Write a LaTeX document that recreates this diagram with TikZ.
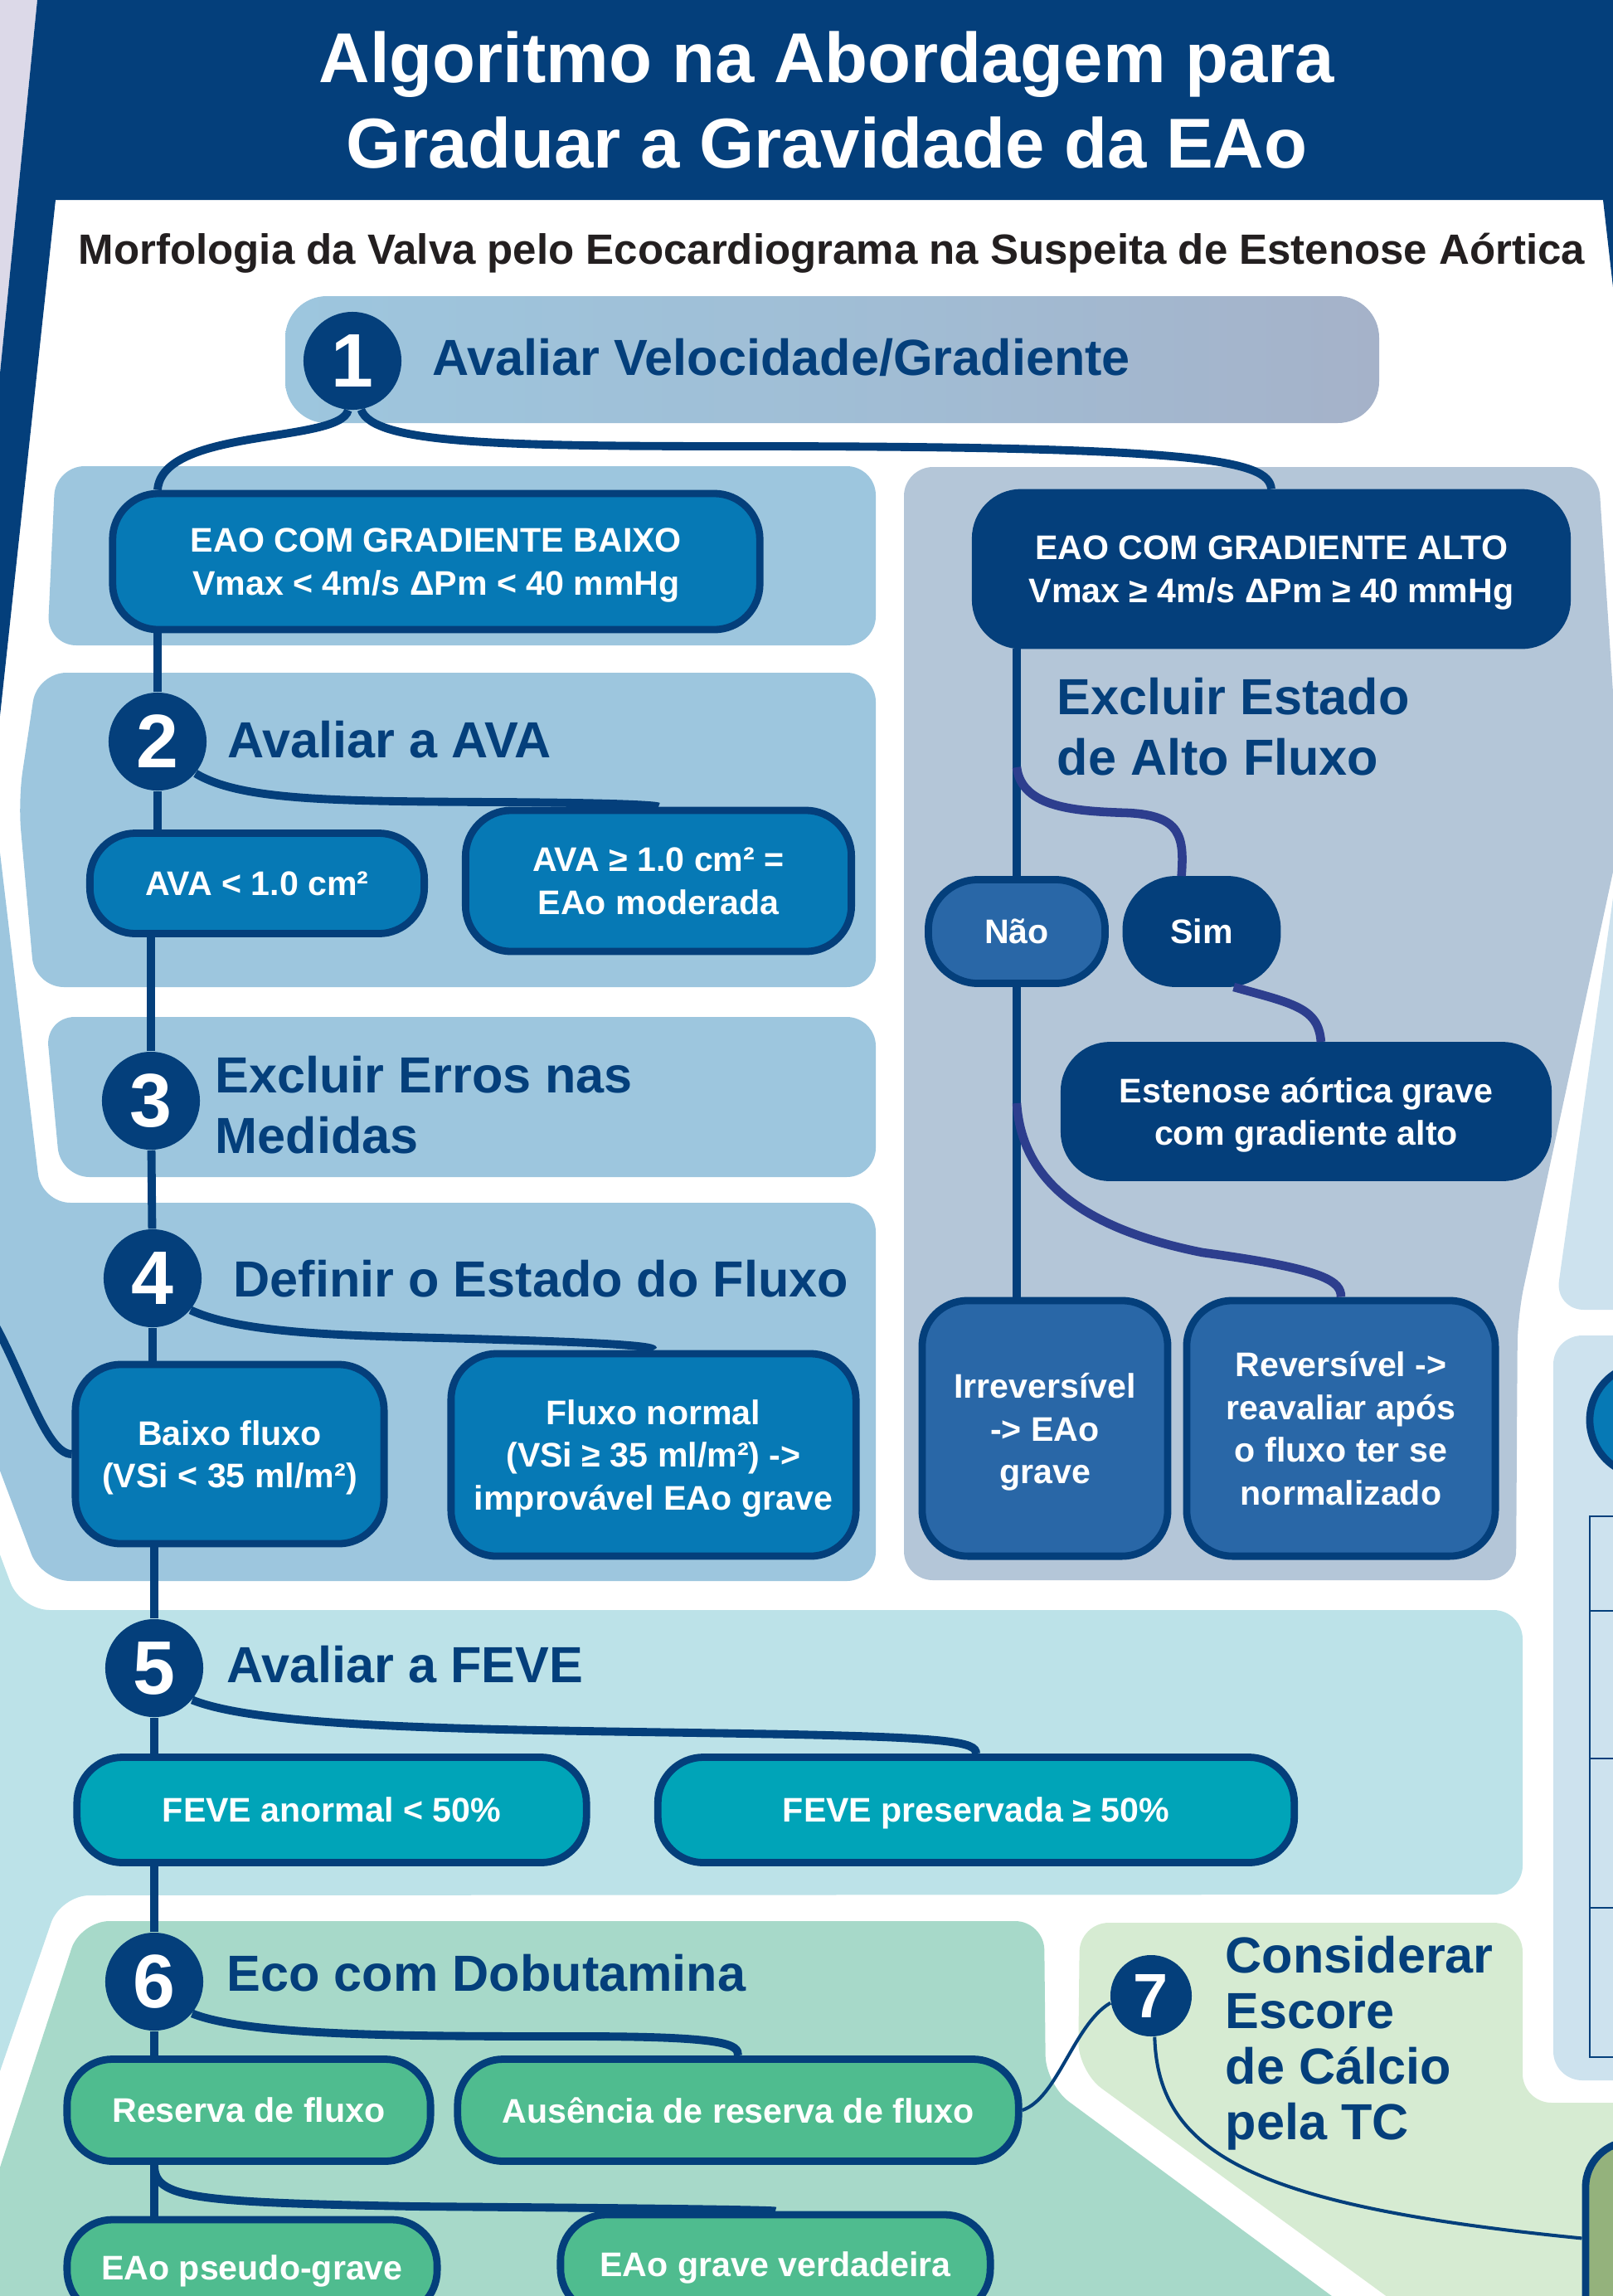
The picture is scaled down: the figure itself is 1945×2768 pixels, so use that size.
\documentclass[tikz,border=0pt]{standalone}
\usepackage{fontspec}
\setmainfont{Liberation Sans}

\definecolor{navy}{HTML}{043F7B}
\definecolor{lavend}{HTML}{DCD9E8}
\definecolor{skyp}{HTML}{9DC6DE}
\definecolor{gradgrey}{HTML}{A5B2C9}
\definecolor{greyp}{HTML}{B4C6D8}
\definecolor{midblue}{HTML}{0679B5}
\definecolor{steel}{HTML}{2967A7}
\definecolor{branchblue}{HTML}{2D3E8E}
\definecolor{tealbg}{HTML}{BCE2E8}
\definecolor{tealbox}{HTML}{00A4B8}
\definecolor{greenbg}{HTML}{A7D9C9}
\definecolor{greenbox}{HTML}{4FBC8F}
\definecolor{palegreen}{HTML}{D6EBD2}
\definecolor{paleblue}{HTML}{CDE2EE}
\definecolor{calcgreen}{HTML}{94B27C}
\definecolor{inkblack}{HTML}{231F20}

\newcommand\titletext{\bfseries\fontsize{24.2}{28.5}\selectfont}
\newcommand\subtext{\bfseries\fontsize{14.5}{17}\selectfont}
\newcommand\headtext{\bfseries\fontsize{17.4}{21}\selectfont}
\newcommand\boxtext{\bfseries\fontsize{11.7}{14.7}\selectfont}
\newcommand\digittext{\bfseries\fontsize{26}{26}\selectfont}

\tikzset{
  panel/.style={rounded corners=0.35cm},
  link/.style={draw=navy, line width=2.8pt},
  branch/.style={draw=branchblue, line width=3pt},
  thinlink/.style={draw=navy, line width=1.15pt},
  stepnum/.style={circle, fill=navy, text=white, inner sep=0pt,
    minimum size=1.18cm, font=\digittext},
  box/.style={rectangle, rounded corners=0.55cm, draw=navy, line width=2.5pt,
    text=white, font=\boxtext, align=center, inner sep=0pt, text depth=0pt},
  heading/.style={text=navy, font=\headtext, inner sep=0pt, align=left},
}

\begin{document}
\begin{tikzpicture}[x=0.01cm,y=-0.01cm]
  \useasboundingbox (0,0) rectangle (1945,2768);
  \clip (0,0) rectangle (1945,2768);

  % header band and frame
  \fill[lavend] (0,0) -- (45,0) -- (0,450) -- cycle;
  \fill[navy] (45,0) -- (1945,0) -- (1945,346) -- (1933,241) -- (67,241)
    -- (0,863) -- (0,450) -- cycle;
  \node[text=white, font=\titletext, anchor=base] (title1) at (997,99)
    {Algoritmo na Abordagem para};
  \node[text=white, font=\titletext, anchor=base] (title2) at (997,202)
    {Graduar a Gravidade da EAo};
  \node[text=inkblack, font=\subtext, anchor=base] (subtitle) at (1003,318)
    {Morfologia da Valva pelo Ecocardiograma na Suspeita de Estenose Aórtica};

  % background panels
  \shade[left color=skyp, right color=gradgrey, middle color=skyp!60!gradgrey,
    rounded corners=0.5cm] (344,357) rectangle (1663,510);
  \fill[skyp, panel] (67,562) -- (1056,562) -- (1056,778) -- (57,778) -- cycle;
  \fill[skyp, panel] (45,811) -- (1056,811) -- (1056,1190) -- (42,1190)
    -- (22,965) -- cycle;
  \fill[skyp, panel] (55,1226) -- (1056,1226) -- (1056,1419) -- (73,1419) -- cycle;
  \fill[skyp, panel] (-20,859) -- (50,1450) -- (1056,1450) -- (1056,1906)
    -- (50,1906) -- (-20,1720) -- cycle;
  \fill[greyp, panel] (1090,563) -- (1927,563) -- (1956,1000) -- (1830,1586)
    -- (1828,1905) -- (1090,1905) -- cycle;
  \fill[paleblue, panel] (1951,1040) -- (1875,1579) -- (1990,1579)
    -- (1990,1040) -- cycle;
  \fill[paleblue, panel] (1873,1610) rectangle (1990,2508);
  \fill[tealbg, panel] (-20,1821) -- (25,1941) -- (1836,1941) -- (1836,2284)
    -- (73,2285) -- (-20,2555) -- cycle;
  \fill[greenbg, panel] (-20,2674) -- (97,2316) -- (1259,2316) -- (1261,2513)
    -- (1660,2808) -- (-20,2808) -- cycle;
  \fill[palegreen, panel] (1302,2318) -- (1836,2318) -- (1836,2535)
    -- (1990,2535) -- (1990,2818) -- (1740,2818) -- (1300,2497) -- cycle;

  % cut-off table at the right edge
  \draw[navy, fill=midblue, line width=2.5pt] (1984,1712) circle [radius=0.67cm];
  \draw[navy, line width=0.8pt] (1990,1828) -- (1917,1828) -- (1917,2480) -- (1990,2480);
  \foreach \yy in {1942,2120,2300}
    \draw[navy, line width=0.8pt] (1917,\yy) -- (1990,\yy);

  % step numbers
  \node[stepnum] (c1) at (425,435) {1};
  \node[stepnum] (c2) at (190,894) {2};
  \node[stepnum] (c3) at (182,1327) {3};
  \node[stepnum] (c4) at (184,1541) {4};
  \node[stepnum] (c5) at (186,2011) {5};
  \node[stepnum] (c6) at (186,2389) {6};
  \node[stepnum, minimum size=0.98cm, font=\bfseries\fontsize{21.5}{21.5}\selectfont]
    (c7) at (1388,2406) {7};

  % step headings
  \node[heading, anchor=base west] (h1) at (521,452) {Avaliar Velocidade/Gradiente};
  \node[heading, anchor=base west] (h2) at (274,913) {Avaliar a AVA};
  \node[heading, anchor=north west] (h3) at (259,1272) {Excluir Erros nas\\Medidas};
  \node[heading, anchor=base west] (h4) at (281,1563) {Definir o Estado do Fluxo};
  \node[heading, anchor=base west] (h5) at (273,2028) {Avaliar a FEVE};
  \node[heading, anchor=base west] (h6) at (273,2400) {Eco com Dobutamina};
  \node[heading, anchor=north west] (hx) at (1274,816) {Excluir Estado\\de Alto Fluxo};
  \node[heading, anchor=north west, font=\bfseries\fontsize{17.4}{19.06}\selectfont]
    (h7) at (1477,2333) {Considerar\\Escore\\de Cálcio\\pela TC};

  % boxes, left column
  \node[box, fill=midblue, minimum width=7.80cm, minimum height=1.64cm] (gbaixo)
    at (526,677) {EAO COM GRADIENTE BAIXO\\Vmax < 4m/s ΔPm < 40 mmHg};
  \node[box, fill=midblue, minimum width=4.03cm, minimum height=1.21cm] (ava1)
    at (310,1065) {AVA < 1.0 cm²};
  \node[box, fill=midblue, minimum width=4.65cm, minimum height=1.70cm] (ava2)
    at (794,1062) {AVA ≥ 1.0 cm² =\\EAo moderada};
  \node[box, fill=midblue, minimum width=3.72cm, minimum height=2.16cm] (baixo)
    at (277,1753) {Baixo fluxo\\(VSi < 35 ml/m²)};
  \node[box, fill=midblue, minimum width=4.88cm, minimum height=2.44cm] (fnormal)
    at (788,1754) {Fluxo normal\\(VSi ≥ 35 ml/m²) ->\\improvável EAo grave};
  \node[box, fill=tealbox, minimum width=6.14cm, minimum height=1.27cm] (anormal)
    at (400,2182) {FEVE anormal < 50\%};
  \node[box, fill=tealbox, minimum width=7.67cm, minimum height=1.27cm] (pres)
    at (1177,2182) {FEVE preservada ≥ 50\%};
  \node[box, fill=greenbox, minimum width=4.38cm, minimum height=1.23cm] (reserva)
    at (300,2544) {Reserva de fluxo};
  \node[box, fill=greenbox, minimum width=6.76cm, minimum height=1.23cm] (aus)
    at (890,2544) {Ausência de reserva de fluxo};
  \node[box, fill=greenbox, minimum width=4.46cm, minimum height=1.16cm] (pseudo)
    at (304,2734) {EAo pseudo-grave};
  \node[box, fill=greenbox, minimum width=5.18cm, minimum height=1.20cm] (verd)
    at (935,2730) {EAo grave verdadeira};

  % boxes, right column
  \node[box, fill=navy, minimum width=7.13cm, minimum height=1.84cm] (galto)
    at (1533,686) {EAO COM GRADIENTE ALTO\\Vmax ≥ 4m/s ΔPm ≥ 40 mmHg};
  \node[box, fill=steel, rounded corners=0.6cm, minimum width=2.13cm,
    minimum height=1.25cm] (nao) at (1226,1123) {Não};
  \node[box, fill=navy, rounded corners=0.6cm, minimum width=1.82cm,
    minimum height=1.25cm] (sim) at (1449,1123) {Sim};
  \node[box, fill=navy, minimum width=5.83cm, minimum height=1.59cm] (est)
    at (1575,1340) {Estenose aórtica grave\\com gradiente alto};
  \node[box, fill=steel, minimum width=2.96cm, minimum height=3.08cm] (irr)
    at (1260,1722) {Irreversível\\-> EAo\\grave};
  \node[box, fill=steel, minimum width=3.72cm, minimum height=3.08cm] (rev)
    at (1617,1722) {Reversível ->\\reavaliar após\\o fluxo ter se\\normalizado};
  \node[box, fill=calcgreen, minimum width=2.88cm, minimum height=3.18cm] (tcbox)
    at (2056,2741) {};

  \coordinate (offleft) at (-10,1590);
  \coordinate (simfork) at (1226,925);
  \coordinate (revfork) at (1226,1330);

  % main trunk
  \draw[link] (c1.-95) .. controls (410,535) and (196,515) .. (gbaixo.north -| c2);
  \draw[link] (c1.-80) .. controls (450,535) and (600,538) .. (900,538)
    .. controls (1450,538) and (1530,555) .. (galto.north);
  \draw[link] (gbaixo.south -| c2) -- (c2);
  \draw[link] (c2) -- (ava1.north -| c2);
  \draw[link] (c2.-40) .. controls (290,965) and (400,966) .. (600,967)
    .. controls (780,968) and (794,972) .. (ava2.north);
  \draw[link] (ava1.south -| c3) -- (c3);
  \draw[link] (c3) -- (c4);
  \draw[link] (c4) -- (baixo.north -| c4);
  \draw[link] (c4.-40) .. controls (300,1612) and (450,1610) .. (600,1615)
    .. controls (780,1620) and (788,1625) .. (fnormal.north);
  \draw[link] (offleft) .. controls (30,1660) and (55,1753) .. (baixo.west);
  \draw[link] (baixo.south -| c5) -- (c5);
  \draw[link] (c5) -- (anormal.north -| c5);
  \draw[link] (c5.-40) .. controls (320,2085) and (600,2085) .. (900,2090)
    .. controls (1150,2094) and (1177,2100) .. (pres.north);
  \draw[link] (anormal.south -| c6) -- (c6);
  \draw[link] (c6) -- (reserva.north -| c6);
  \draw[link] (c6.-40) .. controls (300,2455) and (500,2455) .. (700,2455)
    .. controls (880,2455) and (890,2465) .. (aus.north);
  \draw[link] (reserva.south -| c6) -- (pseudo.north -| c6);
  \draw[link] (reserva.south -| c6) .. controls (186,2650) and (230,2655) .. (500,2660)
    .. controls (900,2663) and (935,2665) .. (verd.north);

  % high gradient column
  \draw[link] (galto.south -| nao) -- (nao);
  \draw[link] (nao) -- (irr.north -| nao);
  \draw[branch] (simfork) .. controls (1232,975) and (1300,978) .. (1360,980)
    .. controls (1425,983) and (1428,1010) .. (sim.110);
  \draw[branch] (sim.-60) .. controls (1560,1210) and (1590,1215) .. (est.78);
  \draw[branch] (revfork) .. controls (1232,1420) and (1300,1480) .. (1450,1510)
    .. controls (1600,1530) and (1617,1545) .. (rev.north);

  % calcium score
  \draw[thinlink] (aus.east) .. controls (1275,2530) and (1295,2440) .. (c7.190);
  \draw[thinlink] (c7.-85) .. controls (1396,2600) and (1520,2660) .. (tcbox.164);
\end{tikzpicture}
\end{document}
